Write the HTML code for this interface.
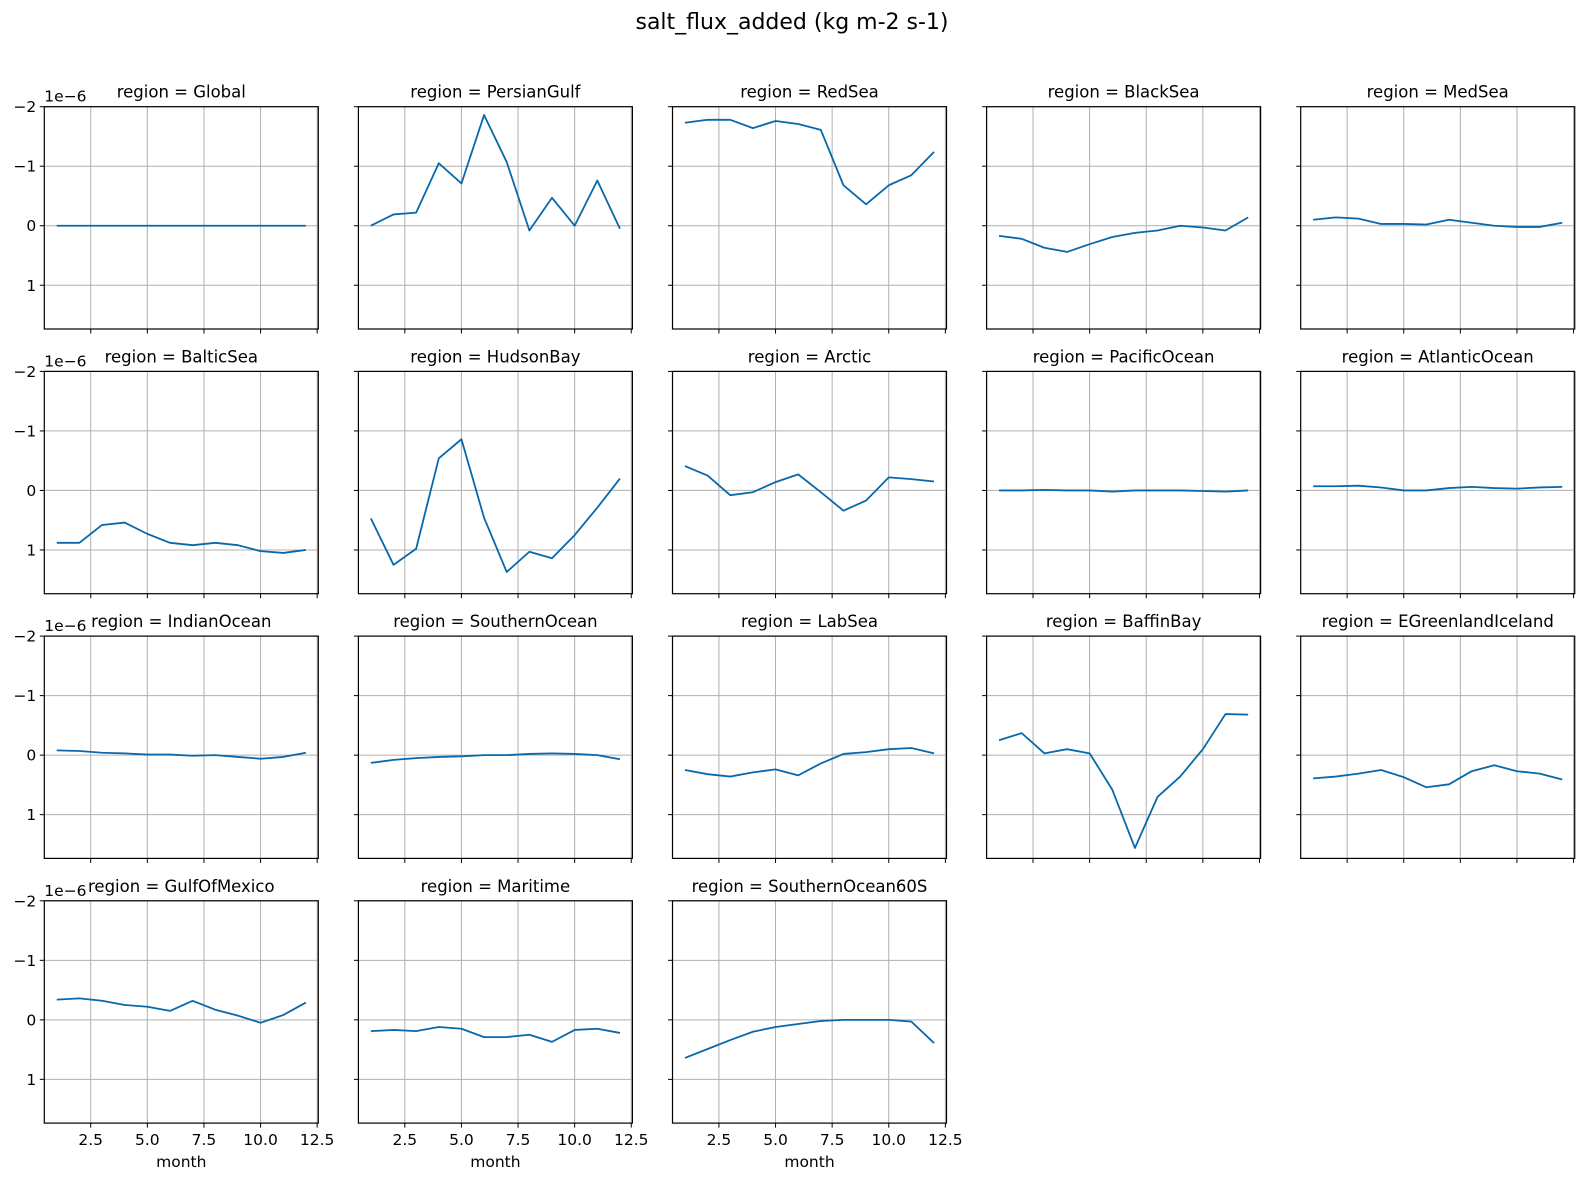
<!DOCTYPE html>
<html><head><meta charset="utf-8">
<style>
body{margin:0;background:#fff;}
svg{display:block;font-family:"DejaVu Sans","Liberation Sans",sans-serif;}
</style></head>
<body>
<svg id="fig" width="1584" height="1178" viewBox="0 0 1584 1178" xmlns="http://www.w3.org/2000/svg">
<rect width="1584" height="1178" fill="#fff"/>
<text x="792" y="29" font-size="22" text-anchor="middle">salt_flux_added (kg m-2 s-1)</text>
</svg>
<script>
const months = [1,2,3,4,5,6,7,8,9,10,11,12];
const regions = ["Global","PersianGulf","RedSea","BlackSea","MedSea","BalticSea","HudsonBay","Arctic","PacificOcean","AtlanticOcean","IndianOcean","SouthernOcean","LabSea","BaffinBay","EGreenlandIceland","GulfOfMexico","Maritime","SouthernOcean60S"];
const sGlobal = [0,0,0,0,0,0,0,0,0,0,0,0];
const sPersianGulf = [0,-0.19,-0.22,-1.05,-0.71,-1.86,-1.07,0.08,-0.47,0,-0.76,0.05];
const sRedSea = [-1.73,-1.78,-1.78,-1.64,-1.76,-1.71,-1.61,-0.68,-0.36,-0.68,-0.85,-1.24];
const sBlackSea = [0.17,0.22,0.37,0.44,0.31,0.19,0.12,0.08,0,0.03,0.08,-0.14];
const sMedSea = [-0.1,-0.14,-0.12,-0.03,-0.03,-0.02,-0.1,-0.05,0,0.02,0.02,-0.05];
const sBalticSea = [0.88,0.88,0.58,0.54,0.73,0.88,0.92,0.88,0.92,1.02,1.05,1.0];
const sHudsonBay = [0.47,1.25,0.98,-0.54,-0.86,0.46,1.37,1.03,1.14,0.75,0.29,-0.2];
const sArctic = [-0.41,-0.25,0.08,0.03,-0.14,-0.27,0.03,0.34,0.17,-0.22,-0.19,-0.15];
const sPacificOcean = [0,0,-0.01,0,0,0.02,0,0,0,0.01,0.02,0];
const sAtlanticOcean = [-0.07,-0.07,-0.08,-0.05,0,0,-0.04,-0.06,-0.04,-0.03,-0.05,-0.06];
const sIndianOcean = [-0.08,-0.07,-0.04,-0.03,-0.01,-0.01,0.01,0,0.03,0.06,0.03,-0.04];
const sSouthernOcean = [0.13,0.08,0.05,0.03,0.02,0,0,-0.02,-0.03,-0.02,0,0.07];
const sLabSea = [0.25,0.32,0.36,0.29,0.24,0.34,0.14,-0.02,-0.05,-0.1,-0.12,-0.03];
const sBaffinBay = [-0.25,-0.37,-0.03,-0.1,-0.03,0.58,1.56,0.7,0.36,-0.1,-0.69,-0.68];
const sEGreenlandIceland = [0.39,0.36,0.31,0.25,0.37,0.54,0.49,0.27,0.17,0.27,0.31,0.41];
const sGulfOfMexico = [-0.34,-0.36,-0.32,-0.25,-0.22,-0.15,-0.32,-0.17,-0.07,0.05,-0.08,-0.29];
const sMaritime = [0.19,0.17,0.19,0.12,0.15,0.29,0.29,0.25,0.37,0.17,0.15,0.22];
const sSouthernOcean60S = [0.64,0.49,0.34,0.2,0.12,0.07,0.02,0,0,0,0.03,0.39];
const series = [sGlobal,sPersianGulf,sRedSea,sBlackSea,sMedSea,sBalticSea,sHudsonBay,sArctic,sPacificOcean,sAtlanticOcean,sIndianOcean,sSouthernOcean,sLabSea,sBaffinBay,sEGreenlandIceland,sGulfOfMexico,sMaritime,sSouthernOcean60S];
const xTicks = [2.5,5.0,7.5,10.0,12.5];
const xTickLabels = ["2.5","5.0","7.5","10.0","12.5"];
const yTicks = [-2,-1,0,1];
const yTickLabels = ["\u22122","\u22121","0","1"];

const svg = document.getElementById('fig');
const NS = "http://www.w3.org/2000/svg";
const X0=0.45, X1=12.55, Y0=-2, Y1=1.735;
const L0=44.3, PW=274, PH=222.3, CP=314.1, RP=264.7, T0=106.7;
function mk(tag, attrs, parent){const e=document.createElementNS(NS,tag);for(const k in attrs)e.setAttribute(k,attrs[k]);(parent||svg).appendChild(e);return e;}

regions.forEach((name,i)=>{
  const col=i%5,row=Math.floor(i/5);
  const left=L0+col*CP, top=T0+row*RP;
  const sx=v=>left+(v-X0)/(X1-X0)*PW;
  const sy=v=>top+(v-Y0)/(Y1-Y0)*PH;
  const g=mk('g',{});
  
  
  xTicks.forEach((t,k)=>{
    const gl=mk('line',{x1:sx(t),x2:sx(t),y1:top,y2:top+PH,stroke:'#b0b0b0','stroke-width':1},g);
    
    
    mk('line',{x1:sx(t),x2:sx(t),y1:top+PH,y2:top+PH+4.5,stroke:'#000','stroke-width':1},g);
    if(row===3){
      const tl=mk('text',{x:sx(t),y:top+PH+22,'font-size':15.5,'text-anchor':'middle'},g);
      tl.textContent=xTickLabels[k];
      
      
    }
  });
  yTicks.forEach((t,k)=>{
    const gl=mk('line',{x1:left,x2:left+PW,y1:sy(t),y2:sy(t),stroke:'#b0b0b0','stroke-width':1},g);
    
    
    mk('line',{x1:left-4.5,x2:left,y1:sy(t),y2:sy(t),stroke:'#000','stroke-width':1},g);
    if(col===0){
      const tl=mk('text',{x:left-8,y:sy(t)+5.5,'font-size':15.5,'text-anchor':'end'},g);
      tl.textContent=yTickLabels[k];
      
      
    }
  });
  const d=series[i].map((v,k)=>(k?'L':'M')+sx(months[k]).toFixed(2)+','+sy(v).toFixed(2)).join(' ');
  const p=mk('path',{d:d,fill:'none',stroke:'#0868ac','stroke-width':1.8,'stroke-linejoin':'round'},g);
  
  
  const fr=mk('rect',{x:left,y:top,width:PW,height:PH,fill:'none',stroke:'#000','stroke-width':1.2},g);
  
  
  const tt=mk('text',{x:left+PW/2,y:top-9,'font-size':16.5,'text-anchor':'middle'},g);
  tt.textContent='region = '+name;
  
  
  if(col===0){
    const ot=mk('text',{x:left,y:top-5,'font-size':15.5},g);
    ot.textContent='1e\u22126';
    
    
  }
  if(row===3){
    const xl=mk('text',{x:left+PW/2,y:top+PH+44,'font-size':15.5,'text-anchor':'middle'},g);
    xl.textContent='month';
    
    
  }
});
</script>
</body></html>
